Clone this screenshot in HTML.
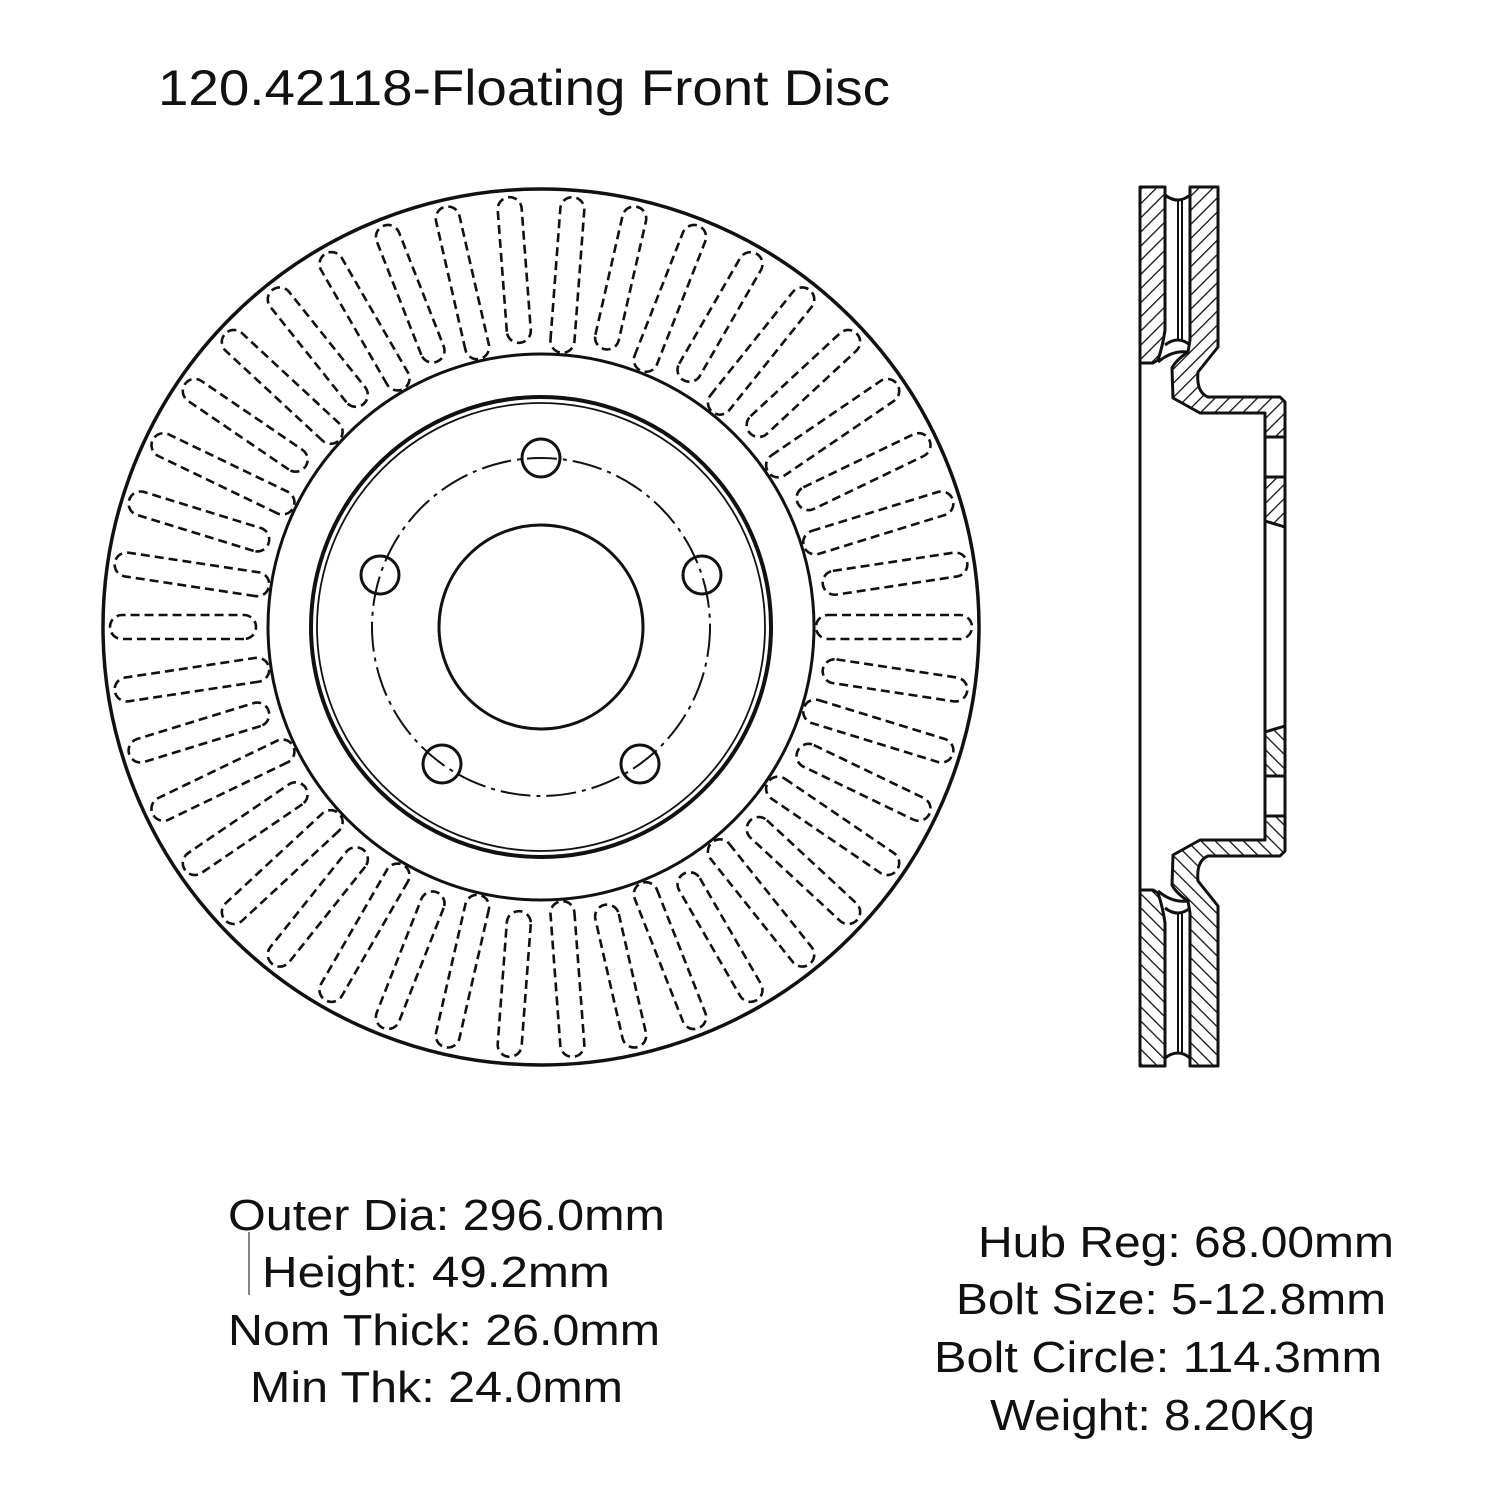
<!DOCTYPE html>
<html><head><meta charset="utf-8"><style>
html,body{margin:0;padding:0;background:#fff;}
svg{display:block;}
text{font-family:"Liberation Sans",sans-serif;fill:#111;}
</style></head><body>
<svg id="s" width="1500" height="1500" viewBox="0 0 1500 1500" xmlns="http://www.w3.org/2000/svg">
<defs>
<pattern id="h" patternUnits="userSpaceOnUse" width="10" height="10" patternTransform="rotate(45)">
<line x1="0" y1="0" x2="0" y2="10" stroke="#111" stroke-width="2.6"/>
</pattern>
</defs>
<rect width="1500" height="1500" fill="#fff"/>
<text x="158" y="105" font-size="50" textLength="732" lengthAdjust="spacingAndGlyphs">120.42118-Floating Front Disc</text>

<g fill="none" stroke="#111">
<circle cx="541" cy="627" r="438" stroke-width="3.5"/>
<circle cx="541" cy="627" r="273" stroke-width="3"/>
<circle cx="541" cy="627" r="230" stroke-width="4"/>
<circle cx="541" cy="627" r="224" stroke-width="1.8"/>
<circle cx="541" cy="627" r="102" stroke-width="3"/>
<circle cx="541" cy="627" r="169" stroke-width="2" stroke-dasharray="30,6,4,6"/>
<g stroke-width="3">
<circle cx="541" cy="458" r="19"/>
<circle cx="380" cy="575" r="19"/>
<circle cx="702" cy="575" r="19"/>
<circle cx="442" cy="764" r="19"/>
<circle cx="640" cy="764" r="19"/>
</g>
<g id="vanes" stroke-width="2.6" stroke-dasharray="9,5"></g>
</g>

<g id="xs">
<g fill="url(#h)" stroke="#111" stroke-width="3" stroke-linejoin="round">
<path d="M1140,187 L1165,187 L1165,330 Q1163,345 1158,360 L1153,363 L1140,363 Z"/>
<path d="M1190,187 L1218,187 L1218,347 L1198,372 Q1196,392 1208,397 L1280,397 L1285,402 L1285,437 L1265,437 L1265,413 L1200,413 L1173,398 L1172,368 Q1176,360 1188,352 L1190,340 Z"/>
<path d="M1265,477 L1285,477 L1285,527 L1265,521 Z"/>
</g>
<g fill="none" stroke="#111" stroke-width="3">
<path d="M1165,195 Q1178,205 1190,195"/>
<path d="M1165,345 Q1178,335 1190,345"/>
<line x1="1178" y1="200" x2="1178" y2="340" stroke-width="2"/>
<line x1="1182" y1="200" x2="1182" y2="340" stroke-width="2"/>
<path d="M1158,362 Q1172,350 1188,352"/>
</g>
</g>
<use href="#xs" transform="translate(0,1253) scale(1,-1)"/>
<g stroke="#111" stroke-width="3">
<line x1="1140" y1="363" x2="1140" y2="890"/>
<line x1="1265" y1="437" x2="1265" y2="816"/>
<line x1="1285" y1="437" x2="1285" y2="816"/>
<line x1="1265" y1="437" x2="1285" y2="437"/>
<line x1="1265" y1="477" x2="1285" y2="477"/>
</g>

<line x1="249" y1="1232" x2="249" y2="1295" stroke="#333" stroke-width="1.2"/>
<g font-size="44">
<text x="228" y="1230" textLength="437" lengthAdjust="spacingAndGlyphs">Outer Dia: 296.0mm</text>
<text x="262" y="1287" textLength="348" lengthAdjust="spacingAndGlyphs">Height: 49.2mm</text>
<text x="228" y="1345" textLength="432" lengthAdjust="spacingAndGlyphs">Nom Thick: 26.0mm</text>
<text x="250" y="1402" textLength="373" lengthAdjust="spacingAndGlyphs">Min Thk: 24.0mm</text>
<text x="978" y="1257" textLength="416" lengthAdjust="spacingAndGlyphs">Hub Reg: 68.00mm</text>
<text x="956" y="1314" textLength="430" lengthAdjust="spacingAndGlyphs">Bolt Size: 5-12.8mm</text>
<text x="934" y="1372" textLength="448" lengthAdjust="spacingAndGlyphs">Bolt Circle: 114.3mm</text>
<text x="990" y="1430" textLength="325" lengthAdjust="spacingAndGlyphs">Weight: 8.20Kg</text>
</g>
</svg>
<script>
var g=document.getElementById('vanes'),out='';
var N=42;
for(var k=0;k<N;k++){
 var a=180+360/N*k;
 var rin=(k%2==0)?285:275, rout=431;
 out+='<rect x="'+rin+'" y="-12" width="'+(rout-rin)+'" height="24" rx="12" transform="translate(541,627) rotate('+a+')"/>';
}
g.innerHTML=out;
</script>
</body></html>
